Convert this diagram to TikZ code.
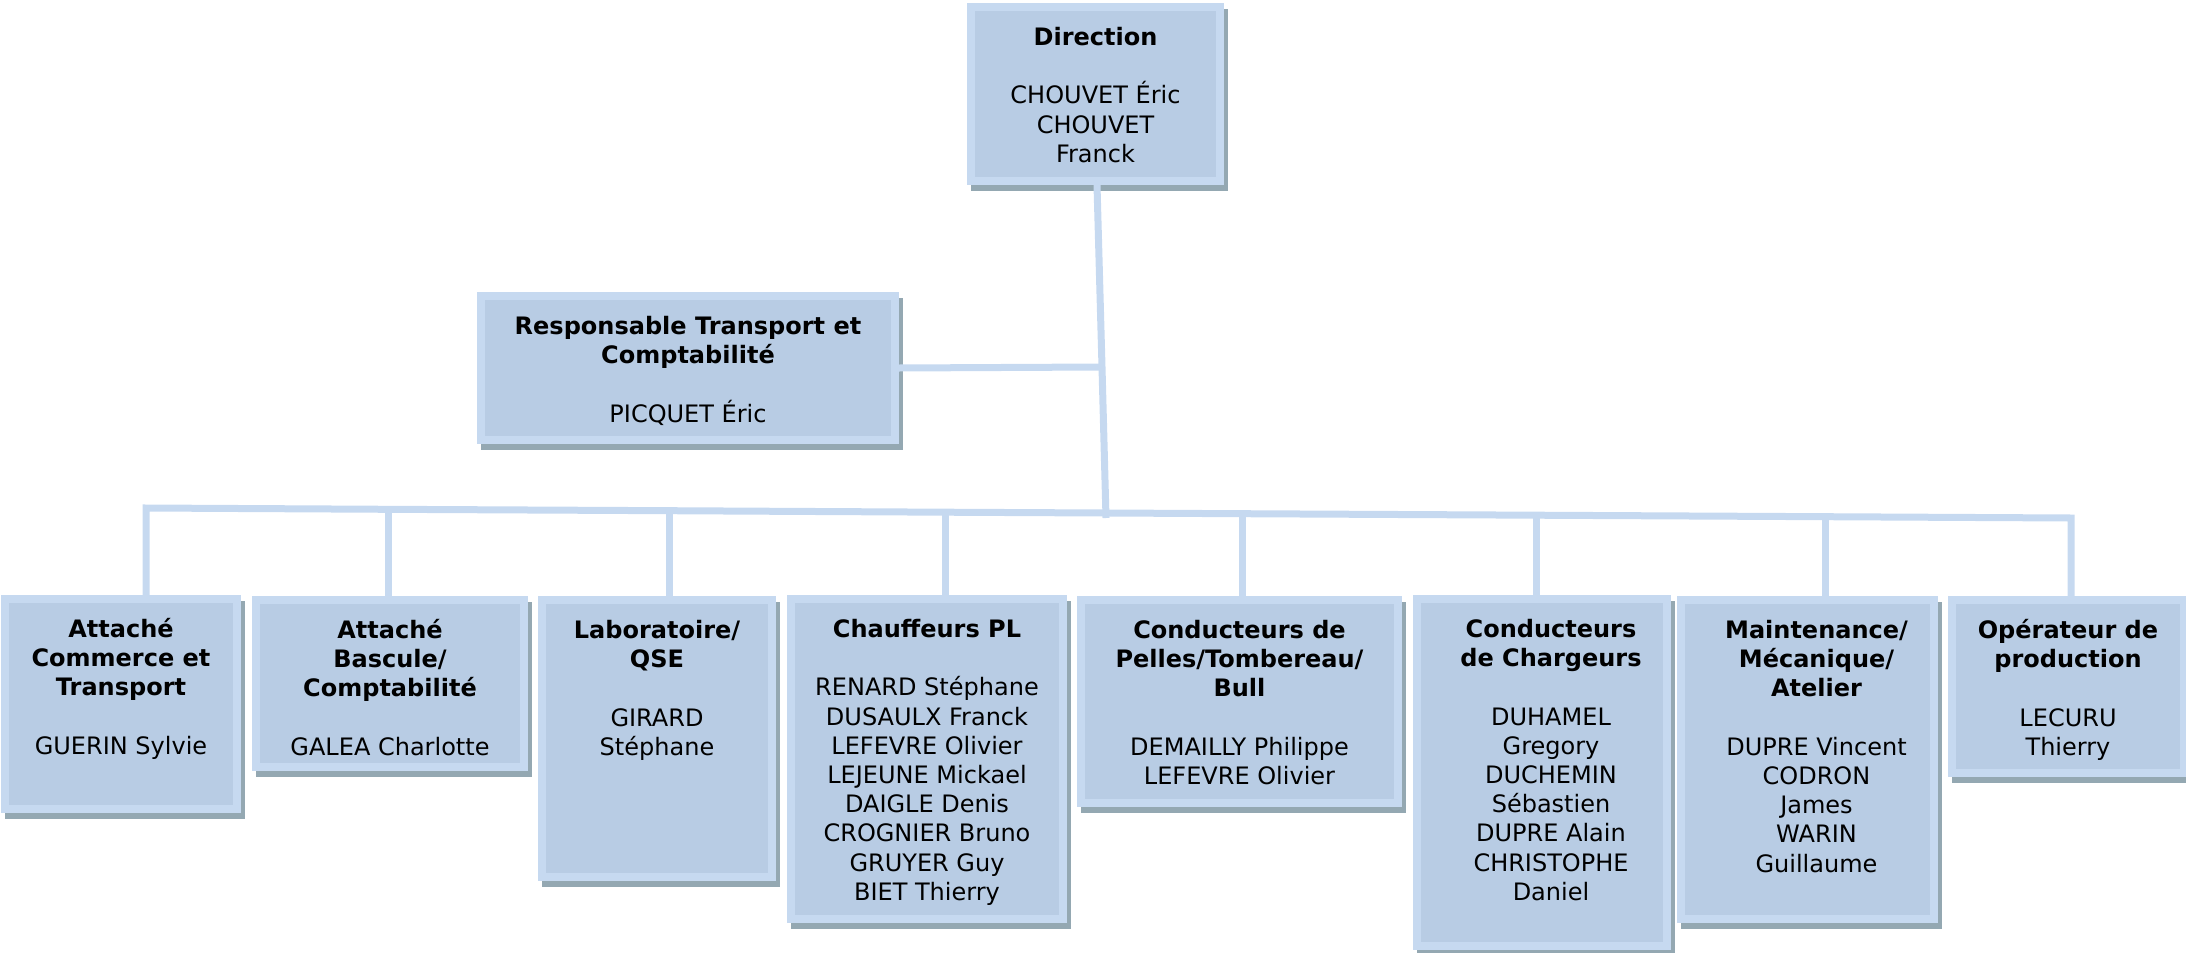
\documentclass[tikz,border=0pt]{standalone}
\usepackage{fontspec}
\setmainfont{DejaVu Sans}
\usetikzlibrary{fit,calc}
\definecolor{bordc}{RGB}{198,217,240}
\definecolor{fillc}{RGB}{184,204,228}
\definecolor{shadc}{RGB}{148,168,178}
\definecolor{linec}{RGB}{198,217,240}
\newcommand\obox[5]{%
  \fill[shadc] (#2+4,#3+6) rectangle (#4+4,#5+6);
  \node[box, fit={(#2+4,#3+4) (#4-4,#5-4)}] (#1) {};}
\begin{document}
\begin{tikzpicture}[x=0.5pt,y=-0.5pt,
  box/.style={draw=bordc, fill=fillc, line width=4pt, inner sep=0pt, rectangle},
  txt/.style={anchor=north, inner sep=0pt, align=center, font=\fontsize{12pt}{14.6pt}\selectfont},
  conn/.style={draw=linec, line width=3.5pt, line join=miter}]
\useasboundingbox (0,0) rectangle (2186,953);

% bus coordinates
\coordinate (c1) at (146,508);
\coordinate (c2) at (388,509.3);
\coordinate (c3) at (669,510.7);
\coordinate (c4) at (945,512.2);
\coordinate (jB) at (1106,513);
\coordinate (c5) at (1242,513.7);
\coordinate (c6) at (1536,515.2);
\coordinate (c7) at (1825,516.7);
\coordinate (c8) at (2071,518);
\coordinate (jR) at (1102,367);
\coordinate (dB) at (1097,185);

% boxes
\obox{dir}{967}{3}{1224}{185}
\obox{resp}{477}{292}{899}{444}
\obox{b1}{1}{595}{241}{813}
\obox{b2}{252}{596}{528}{771}
\obox{b3}{538}{596}{776}{881}
\obox{b4}{787}{595}{1067}{923}
\obox{b5}{1077}{596}{1402}{807}
\obox{b6}{1413}{595}{1671}{950}
\obox{b7}{1677}{596}{1938}{923}
\obox{b8}{1948}{596}{2188}{777}

% connectors
\path[conn] (dB) -- (jR) -- (1106,518);
\path[conn] (resp.east) -- (jR);
\path[conn] (c1 |- b1.north) -- (c1) -- (c2) -- (c3) -- (c4) -- (jB) -- (c5) -- (c6) -- (c7) -- (c8) -- (c8 |- b8.north);
\path[conn] (c2) -- (c2 |- b2.north);
\path[conn] (c3) -- (c3 |- b3.north);
\path[conn] (c4) -- (c4 |- b4.north);
\path[conn] (c5) -- (c5 |- b5.north);
\path[conn] (c6) -- (c6 |- b6.north);
\path[conn] (c7) -- (c7 |- b7.north);

% texts
\node[txt] (dirt) at ($(dir.north)+(0,18)$) {\rule{0pt}{12pt}\textbf{Direction}\\[14.6pt]CHOUVET Éric\\CHOUVET\\Franck};
\node[txt] (respt) at ($(resp.north)+(0,18)$) {\rule{0pt}{12pt}\textbf{Responsable Transport et}\\\textbf{Comptabilité}\\[14.6pt]PICQUET Éric};
\node[txt] (b1t) at ($(b1.north)+(0,18)$) {\rule{0pt}{12pt}\textbf{Attaché}\\\textbf{Commerce et}\\\textbf{Transport}\\[14.6pt]GUERIN Sylvie};
\begin{scope}
\clip (252,596) rectangle (528,757);
\node[txt] (b2t) at ($(b2.north)+(0,18)$) {\rule{0pt}{12pt}\textbf{Attaché}\\\textbf{Bascule/}\\\textbf{Comptabilité}\\[14.6pt]GALEA Charlotte};
\end{scope}
\node[txt] (b3t) at ($(b3.north)+(0,18)$) {\rule{0pt}{12pt}\textbf{Laboratoire/}\\\textbf{QSE}\\[14.6pt]GIRARD\\Stéphane};
\node[txt] (b4t) at ($(b4.north)+(0,18)$) {\rule{0pt}{12pt}\textbf{Chauffeurs PL}\\[14.6pt]RENARD Stéphane\\DUSAULX Franck\\LEFEVRE Olivier\\LEJEUNE Mickael\\DAIGLE Denis\\CROGNIER Bruno\\GRUYER Guy\\BIET Thierry};
\node[txt] (b5t) at ($(b5.north)+(0,18)$) {\rule{0pt}{12pt}\textbf{Conducteurs de}\\\textbf{Pelles/Tombereau/}\\\textbf{Bull}\\[14.6pt]DEMAILLY Philippe\\LEFEVRE Olivier};
\node[txt] (b6t) at ($(b6.north)+(9,18)$) {\rule{0pt}{12pt}\textbf{Conducteurs}\\\textbf{de Chargeurs}\\[14.6pt]DUHAMEL\\Gregory\\DUCHEMIN\\Sébastien\\DUPRE Alain\\CHRISTOPHE\\Daniel};
\node[txt] (b7t) at ($(b7.north)+(9,18)$) {\rule{0pt}{12pt}\textbf{Maintenance/}\\\textbf{Mécanique/}\\\textbf{Atelier}\\[14.6pt]DUPRE Vincent\hspace*{8pt}\\CODRON\\James\\WARIN\\Guillaume};
\node[txt] (b8t) at ($(b8.north)+(0,18)$) {\rule{0pt}{12pt}\textbf{Opérateur de}\\\textbf{production}\\[14.6pt]LECURU\\Thierry};
\end{tikzpicture}
\end{document}
